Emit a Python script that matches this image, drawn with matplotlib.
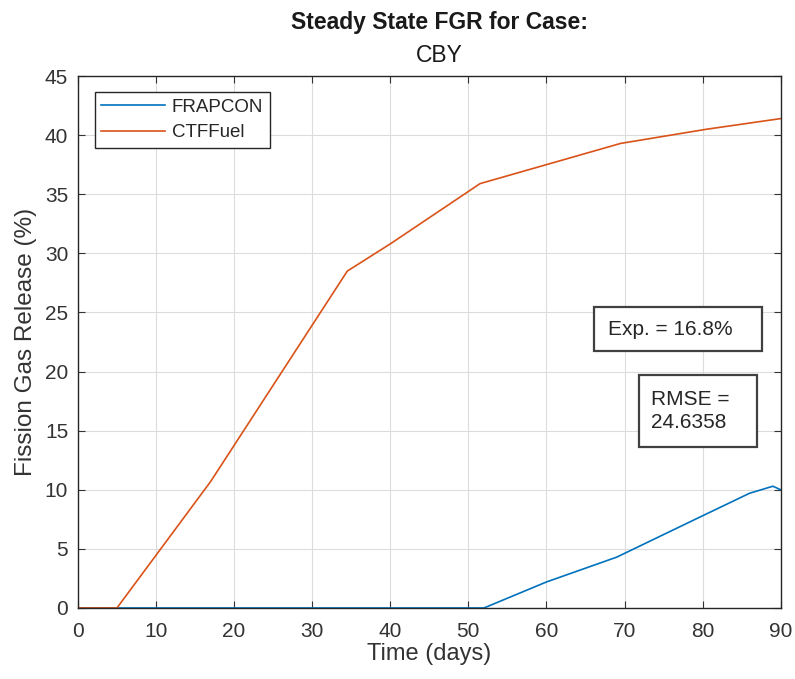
import matplotlib
matplotlib.use("Agg")
import matplotlib.pyplot as plt
from matplotlib.patches import Rectangle

plt.rcParams['font.family'] = ['Liberation Sans', 'DejaVu Sans']

frap_t = [0, 52, 60, 69, 80, 86, 89, 90]
frap_fgr = [0, 0, 2.2, 4.3, 7.8, 9.7, 10.3, 10.0]
ctf_t = [0, 5, 17, 34.5, 40, 51.5, 60.5, 69.5, 80.5, 90]
ctf_fgr = [0, 0, 10.7, 28.5, 30.8, 35.9, 37.6, 39.3, 40.5, 41.4]

title1 = "Steady State FGR for Case:"
title2 = "CBY"
exp_text = "Exp. = 16.8%"
rmse_text = "RMSE =\n24.6358"

fig = plt.figure(figsize=(7.95, 6.79), dpi=100)
ax = fig.add_axes([0.098, 0.1046, 0.884, 0.7834])

ax.plot(frap_t, frap_fgr, color='#0072BD', lw=1.2, label='FRAPCON')
ax.plot(ctf_t, ctf_fgr, color='#D95319', lw=1.2, label='CTFFuel')

ax.set_xlim(0, 90)
ax.set_ylim(0, 45)
ax.set_xticks(range(0, 91, 10))
ax.set_yticks(range(0, 46, 5))
ax.grid(True, color='#dcdcdc', lw=0.8)
ax.set_axisbelow(True)
ax.tick_params(direction='in', top=True, right=True, labelsize=15, colors='#333333', length=5)
ax.tick_params(axis='x', pad=10)
ax.tick_params(axis='y', pad=7)
for s in ax.spines.values():
    s.set_color('#262626')
    s.set_linewidth(1.0)

ax.set_xlabel("Time (days)", fontsize=17, color='#333333')
ax.set_ylabel("Fission Gas Release (%)", fontsize=17.5, color='#333333')
ax.xaxis.set_label_coords(0.5, -0.066)
ax.yaxis.set_label_coords(-0.058, 0.5)

fig.text(0.5525, 1 - 22/679, title1, ha='center', va='center', fontsize=16.5, fontweight='bold', color='#1a1a1a')
fig.text(0.5525, 1 - 55/679, title2, ha='center', va='center', fontsize=16.5, color='#1a1a1a')

leg = ax.legend(loc='upper left', bbox_to_anchor=(0.024, 0.970), fontsize=13.5,
                handlelength=3.4, fancybox=False, framealpha=1, borderaxespad=0,
                edgecolor='#262626', borderpad=0.35, labelspacing=0.45, handletextpad=0.35)
leg.get_frame().set_linewidth(1.0)
for t in leg.get_texts():
    t.set_color('#262626')

ax.add_patch(Rectangle((0.734, 0.483), 0.239, 0.083, transform=ax.transAxes,
                       fill=True, facecolor='white', edgecolor='#404040', lw=1.6, zorder=5))
ax.text(0.754, 0.524, exp_text, transform=ax.transAxes, ha='left', va='center',
        fontsize=15, color='#262626', zorder=6)
ax.add_patch(Rectangle((0.799, 0.303), 0.168, 0.135, transform=ax.transAxes,
                       fill=True, facecolor='white', edgecolor='#404040', lw=1.6, zorder=5))
ax.text(0.816, 0.370, rmse_text, transform=ax.transAxes, ha='left', va='center',
        fontsize=15, color='#262626', linespacing=1.3, zorder=6)

fig.savefig("out.png", dpi=100)
